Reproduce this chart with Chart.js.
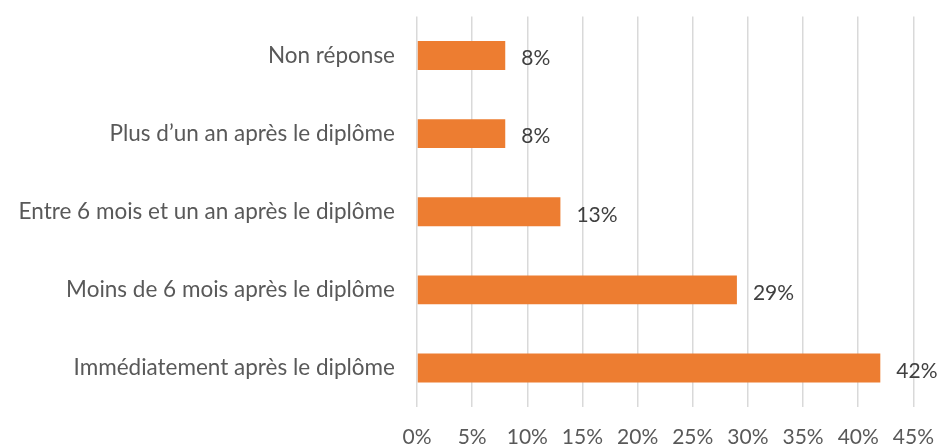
<!DOCTYPE html>
<html>
<head>
<meta charset="utf-8">
<script src="https://cdn.jsdelivr.net/npm/chart.js@4"></script>
<style>
    html, body { margin: 0; padding: 0; background: #fff; overflow: hidden; }
    #wrap { width: 952px; height: 467px; margin-top: -19px; }
</style>
</head>
<body>
<div id="wrap"><canvas id="chart"></canvas></div>
<script>
// Data
const categories = [
    'Non réponse',
    'Plus d’un an après le diplôme',
    'Entre 6 mois et un an après le diplôme',
    'Moins de 6 mois après le diplôme',
    'Immédiatement après le diplôme'
];
const values = [8, 8, 13, 29, 42];
const xTicks = [0, 5, 10, 15, 20, 25, 30, 35, 40, 45];

const FONT = 'Lato';
const TEXT = '#595959';

// value labels at bar ends
const barLabels = {
    id: 'barLabels',
    afterDatasetsDraw(chart) {
        const ctx = chart.ctx;
        const meta = chart.getDatasetMeta(0);
        ctx.save();
        ctx.font = '21px ' + FONT;
        ctx.fillStyle = '#404040';
        ctx.textAlign = 'left';
        ctx.textBaseline = 'middle';
        meta.data.forEach((bar, i) => {
            ctx.fillText(values[i] + '%', bar.x + 16, bar.y + 3);
        });
        ctx.restore();
    }
};

new Chart(document.getElementById('chart'), {
    type: 'bar',
    data: {
        labels: categories,
        datasets: [{
            data: values,
            backgroundColor: '#ED7D31',
            categoryPercentage: 1,
            barPercentage: 0.37
        }]
    },
    options: {
        indexAxis: 'y',
        responsive: true,
        maintainAspectRatio: false,
        animation: false,
        layout: { padding: { top: 0, right: 22, left: 0, bottom: 0 } },
        plugins: {
            legend: { display: false },
            tooltip: { enabled: false }
        },
        scales: {
            x: {
                min: 0,
                max: 45,
                afterBuildTicks: s => { s.ticks = xTicks.map(v => ({ value: v })); },
                afterFit: s => { s.height = 41; },
                grid: { color: '#D9D9D9', lineWidth: 1.5, drawTicks: false },
                border: { display: false },
                ticks: {
                    padding: 18,
                    color: TEXT,
                    font: { family: FONT, size: 21 },
                    callback: v => v + '%'
                }
            },
            y: {
                afterFit: s => { s.width = 417; },
                grid: { display: false, drawTicks: false },
                border: { display: false },
                ticks: {
                    padding: 22,
                    color: TEXT,
                    font: { family: FONT, size: 22.5 }
                }
            }
        }
    },
    plugins: [barLabels]
});
</script>
</body>
</html>
